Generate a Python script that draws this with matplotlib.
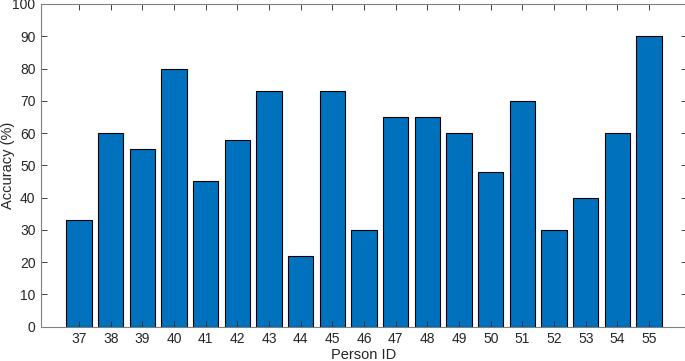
import matplotlib.pyplot as plt
import numpy as np

plt.rcParams['font.family'] = ['Liberation Sans', 'DejaVu Sans']

# Person IDs and their accuracies
person_ids = [37, 38, 39, 40, 41, 42, 43, 44, 45, 46, 47, 48, 49, 50, 51, 52, 53, 54, 55]
accuracy = [33, 60, 55, 80, 45, 58, 73, 22, 73, 30, 65, 65, 60, 48, 70, 30, 40, 60, 90]

fig = plt.figure(figsize=(6.85, 3.61), dpi=100)
ax = fig.add_axes([0.06, 0.095, 0.943, 0.894])

ax.bar(person_ids, accuracy, width=0.8, color='#0072BD', edgecolor='black', linewidth=0.8)

ax.set_xlim(35.8, 56.2)
ax.set_ylim(0, 100)
ax.set_xticks(person_ids)
ax.set_yticks(np.arange(0, 101, 10))

ax.tick_params(direction='in', top=True, right=True, length=4.5, width=0.6,
               labelsize=10, colors='#262626', pad=4)
for s in ax.spines.values():
    s.set_color('#808080')
    s.set_linewidth(0.8)

# axis labels placed by hand so they sit tight to the figure edges
fig.text(0.5 * (0.06 + 1.003), 0.017, "Person ID", fontsize=10.5,
         ha='center', va='center', color='#262626')
fig.text(0.002, 0.095 + 0.894 / 2, "Accuracy (%)", fontsize=10.5, rotation=90,
         ha='left', va='center', color='#262626')

fig.savefig("out.png", dpi=100)
